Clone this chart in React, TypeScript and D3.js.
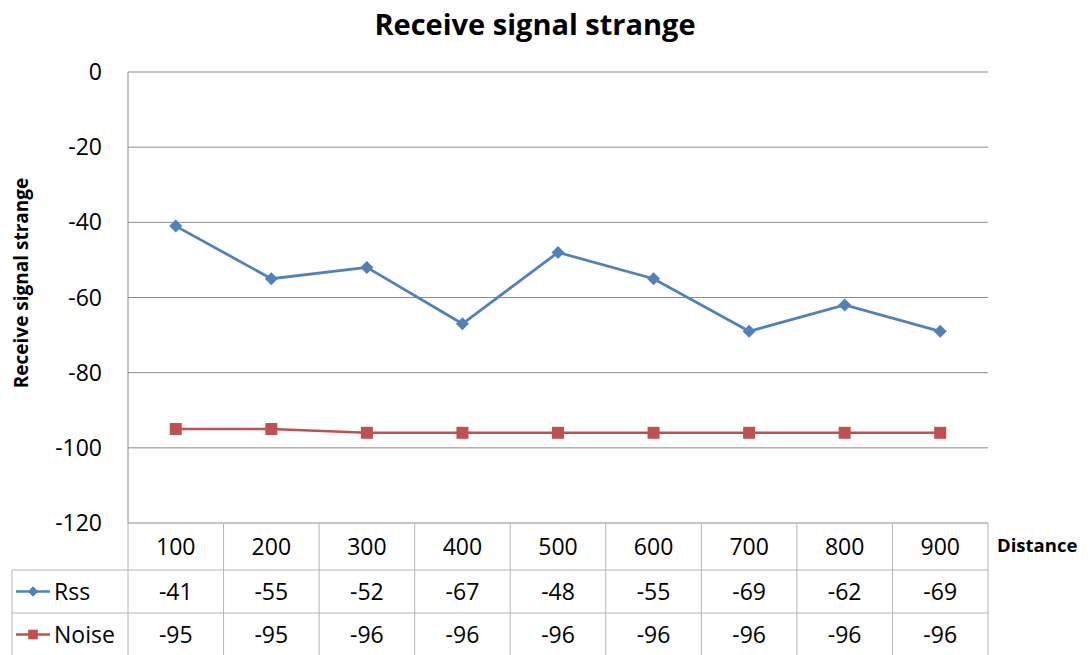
import React from "react";
import * as d3 from "d3";

const categories = ["100", "200", "300", "400", "500", "600", "700", "800", "900"];
const rssValues = [-41, -55, -52, -67, -48, -55, -69, -62, -69];
const noiseValues = [-95, -95, -96, -96, -96, -96, -96, -96, -96];
const yTicks = [0, -20, -40, -60, -80, -100, -120];
const seriesNames = ["Rss", "Noise"];

const W = 1090, H = 655;
const left = 128, right = 988, top = 72, bottom = 523;
const row1 = 570, row2 = 613, row3 = 656;
const FONT = "'Open Sans', 'Noto Sans', sans-serif";
const BLUE = "#4F81BD", RED = "#C0504D";

export default function App() {
  const x = d3.scaleBand<string>().domain(categories).range([left, right]);
  const y = d3.scaleLinear().domain([-120, 0]).range([bottom, top]);
  const cx = (c: string) => (x(c) as number) + x.bandwidth() / 2;
  const line = d3.line<number>().x((_, i) => cx(categories[i])).y((v) => y(v));
  const diamond = "M0,-6.5L6.5,0L0,6.5L-6.5,0Z";
  const square = d3.symbol().type(d3.symbolSquare).size(144)();
  const series = [
    { name: seriesNames[0], values: rssValues, color: BLUE, marker: diamond, lw: 2.75 },
    { name: seriesNames[1], values: noiseValues, color: RED, marker: square, lw: 2.5 },
  ];
  const rowY = [row1, row2];
  const gridColor = "#8c8c8c";
  const tableColor = "#b4b4b4";
  return (
    <svg width={W} height={H} style={{ position: "absolute", left: 0, top: 0, background: "#fff" }}>
      <text x={535} y={35} textAnchor="middle" fontFamily={FONT} fontWeight="bold" fontSize={29} fill="#000">
        Receive signal strange
      </text>
      <text transform={`translate(28,283) rotate(-90)`} textAnchor="middle" fontFamily={FONT} fontWeight="bold" fontSize={19} fill="#000">
        Receive signal strange
      </text>
      {yTicks.map((t) => (
        <g key={t}>
          <line x1={left} x2={right} y1={y(t)} y2={y(t)} stroke={gridColor} strokeWidth={1} />
          <text x={102} y={y(t) + 8} textAnchor="end" fontFamily={FONT} fontSize={23} fill="#000">
            {t}
          </text>
        </g>
      ))}
      <line x1={left} x2={left} y1={top} y2={bottom} stroke={gridColor} strokeWidth={1} />
      <line x1={12} x2={right} y1={row1} y2={row1} stroke={tableColor} />
      <line x1={12} x2={right} y1={row2} y2={row2} stroke={tableColor} />
      <line x1={12} x2={12} y1={row1} y2={row3} stroke={tableColor} />
      {categories.map((c) => (
        <line key={"v" + c} x1={(x(c) as number)} x2={(x(c) as number)} y1={bottom} y2={row3} stroke={tableColor} />
      ))}
      <line x1={right} x2={right} y1={bottom} y2={row3} stroke={tableColor} />
      {categories.map((c) => (
        <text key={"c" + c} x={cx(c)} y={(bottom + row1) / 2 + 8} textAnchor="middle" fontFamily={FONT} fontSize={23} fill="#000">
          {c}
        </text>
      ))}
      <text x={997} y={552} fontFamily={FONT} fontWeight="bold" fontSize={18.5} fill="#000">Distance</text>
      {series.map((s, si) => {
        const ry = rowY[si];
        const mid = ry + (si === 0 ? (row2 - row1) / 2 : (row3 - row2) / 2);
        return (
          <g key={s.name}>
            <line x1={16} x2={50} y1={mid} y2={mid} stroke={s.color} strokeWidth={2.5} />
            <path d={s.marker as string} transform={`translate(33,${mid}) scale(0.8)`} fill={s.color} />
            <text x={54} y={mid + 8} fontFamily={FONT} fontSize={23} fill="#000">{s.name}</text>
            {s.values.map((v, i) => (
              <text key={i} x={cx(categories[i])} y={mid + 8} textAnchor="middle" fontFamily={FONT} fontSize={23} fill="#000">
                {v}
              </text>
            ))}
          </g>
        );
      })}
      {series.map((s) => (
        <g key={"l" + s.name}>
          <path d={line(s.values) as string} fill="none" stroke={s.color} strokeWidth={s.lw} />
          {s.values.map((v, i) => (
            <path key={i} d={s.marker as string} transform={`translate(${cx(categories[i])},${y(v)})`} fill={s.color} />
          ))}
        </g>
      ))}
    </svg>
  );
}
